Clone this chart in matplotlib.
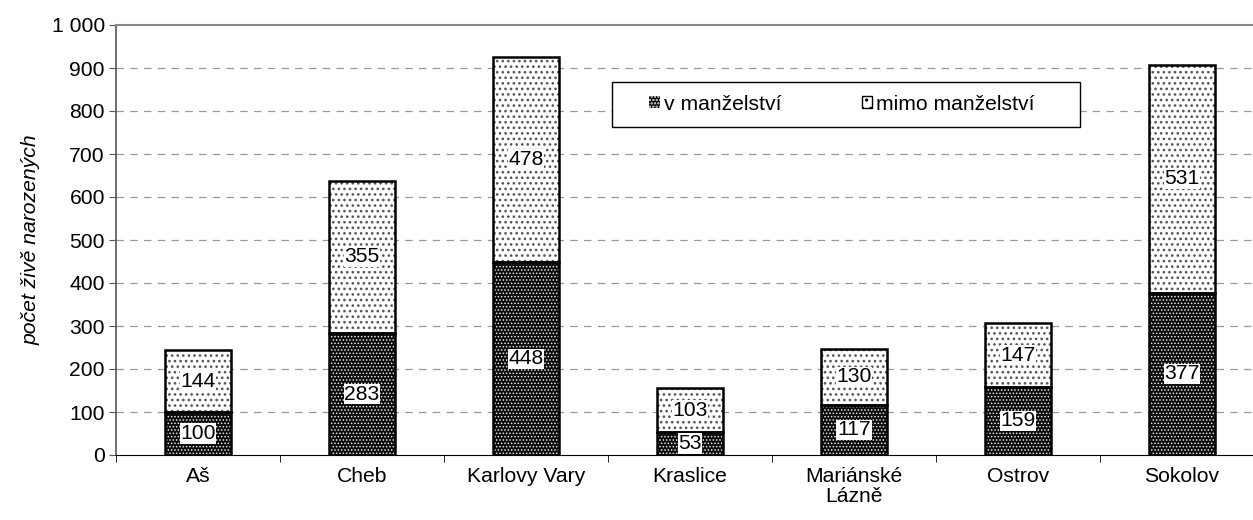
import matplotlib
matplotlib.use("Agg")
import matplotlib.pyplot as plt
import numpy as np
from matplotlib.patches import Patch, Rectangle
from matplotlib.ticker import FuncFormatter, MultipleLocator, FixedLocator

plt.rcParams['font.family'] = ['Liberation Sans', 'DejaVu Sans']

categories = ["Aš", "Cheb", "Karlovy Vary", "Kraslice", "Mariánské\nLázně", "Ostrov", "Sokolov"]
v_manzelstvi = [100, 283, 448, 53, 117, 159, 377]
mimo_manzelstvi = [144, 355, 478, 103, 130, 147, 531]
series_names = ["v manželství", "mimo manželství"]

FS = 15.2

W, H = 1253, 520
fig = plt.figure(figsize=(W/100, H/100), dpi=100)
ax = fig.add_axes([116/W, 1-455/H, 1148/W, 430/H])

x = np.arange(len(categories))
w = 0.4

# dark bottom
plt.rcParams['hatch.linewidth'] = 0.7
ax.bar(x, v_manzelstvi, w, facecolor='#0a0a0a', hatch='.....', edgecolor='#e8e8e8', linewidth=0, zorder=2)
ax.bar(x, v_manzelstvi, w, fill=False, edgecolor='black', linewidth=1.8, zorder=3)
# light top
plt.rcParams['hatch.linewidth'] = 1.1
ax.bar(x, mimo_manzelstvi, w, bottom=v_manzelstvi, facecolor='white', hatch='...', edgecolor='#555555', linewidth=0, zorder=2)
ax.bar(x, mimo_manzelstvi, w, bottom=v_manzelstvi, fill=False, edgecolor='black', linewidth=1.8, zorder=3)

for i in range(len(categories)):
    ax.text(x[i], v_manzelstvi[i]/2, str(v_manzelstvi[i]), ha='center', va='center', fontsize=FS,
            bbox=dict(facecolor='white', edgecolor='none', pad=0.5), zorder=4)
    ax.text(x[i], v_manzelstvi[i] + mimo_manzelstvi[i]/2, str(mimo_manzelstvi[i]), ha='center', va='center',
            fontsize=FS, bbox=dict(facecolor='white', edgecolor='none', pad=0.5), zorder=4)

ax.set_xlim(-0.5, len(categories) - 0.5)
ax.set_ylim(0, 1000)
ax.yaxis.set_major_locator(MultipleLocator(100))
ax.yaxis.set_major_formatter(FuncFormatter(lambda v, p: f"{int(v):,}".replace(",", " ")))
ax.set_xticks(x)
ax.set_xticklabels(categories, fontsize=FS, linespacing=1.0)
ax.xaxis.set_minor_locator(FixedLocator(np.arange(-0.5, len(categories), 1.0)))
ax.tick_params(axis='x', which='major', length=0, pad=9)
ax.tick_params(axis='x', which='minor', length=5, direction='out', color='black')
ax.tick_params(axis='y', labelsize=FS, length=5, direction='out', color='#555555', pad=3)
for yv in range(100, 1000, 100):
    ax.axhline(yv, color='#999999', linestyle=(0, (6, 5)), linewidth=0.9, zorder=1)
ax.spines['top'].set_color('#888888')
ax.spines['top'].set_linewidth(1.5)
ax.spines['left'].set_color('#555555')
ax.spines['left'].set_linewidth(1.2)
ax.spines['bottom'].set_color('black')
ax.spines['right'].set_visible(False)
ax.set_ylabel("počet živě narozených", fontstyle='italic', fontsize=FS, labelpad=8)

# legend frame
fig.patches.append(Rectangle((612/W, 1-127/H), (1080-612)/W, 45/H, transform=fig.transFigure,
                             facecolor='white', edgecolor='black', linewidth=1.0, zorder=5))
handles = [Patch(facecolor='#0a0a0a', hatch='.....', edgecolor='#e8e8e8', linewidth=0),
           Patch(facecolor='white', hatch='..', edgecolor='black', linewidth=1)]
leg = fig.legend(handles, series_names, ncol=2, loc='center left', bbox_to_anchor=(649/W, 1-104/H),
                 frameon=False, fontsize=FS, borderpad=0, borderaxespad=0,
                 columnspacing=3.8, handlelength=0.5, handleheight=0.5, handletextpad=0.2)
leg.set_zorder(6)

fig.savefig("out.png", dpi=100)
